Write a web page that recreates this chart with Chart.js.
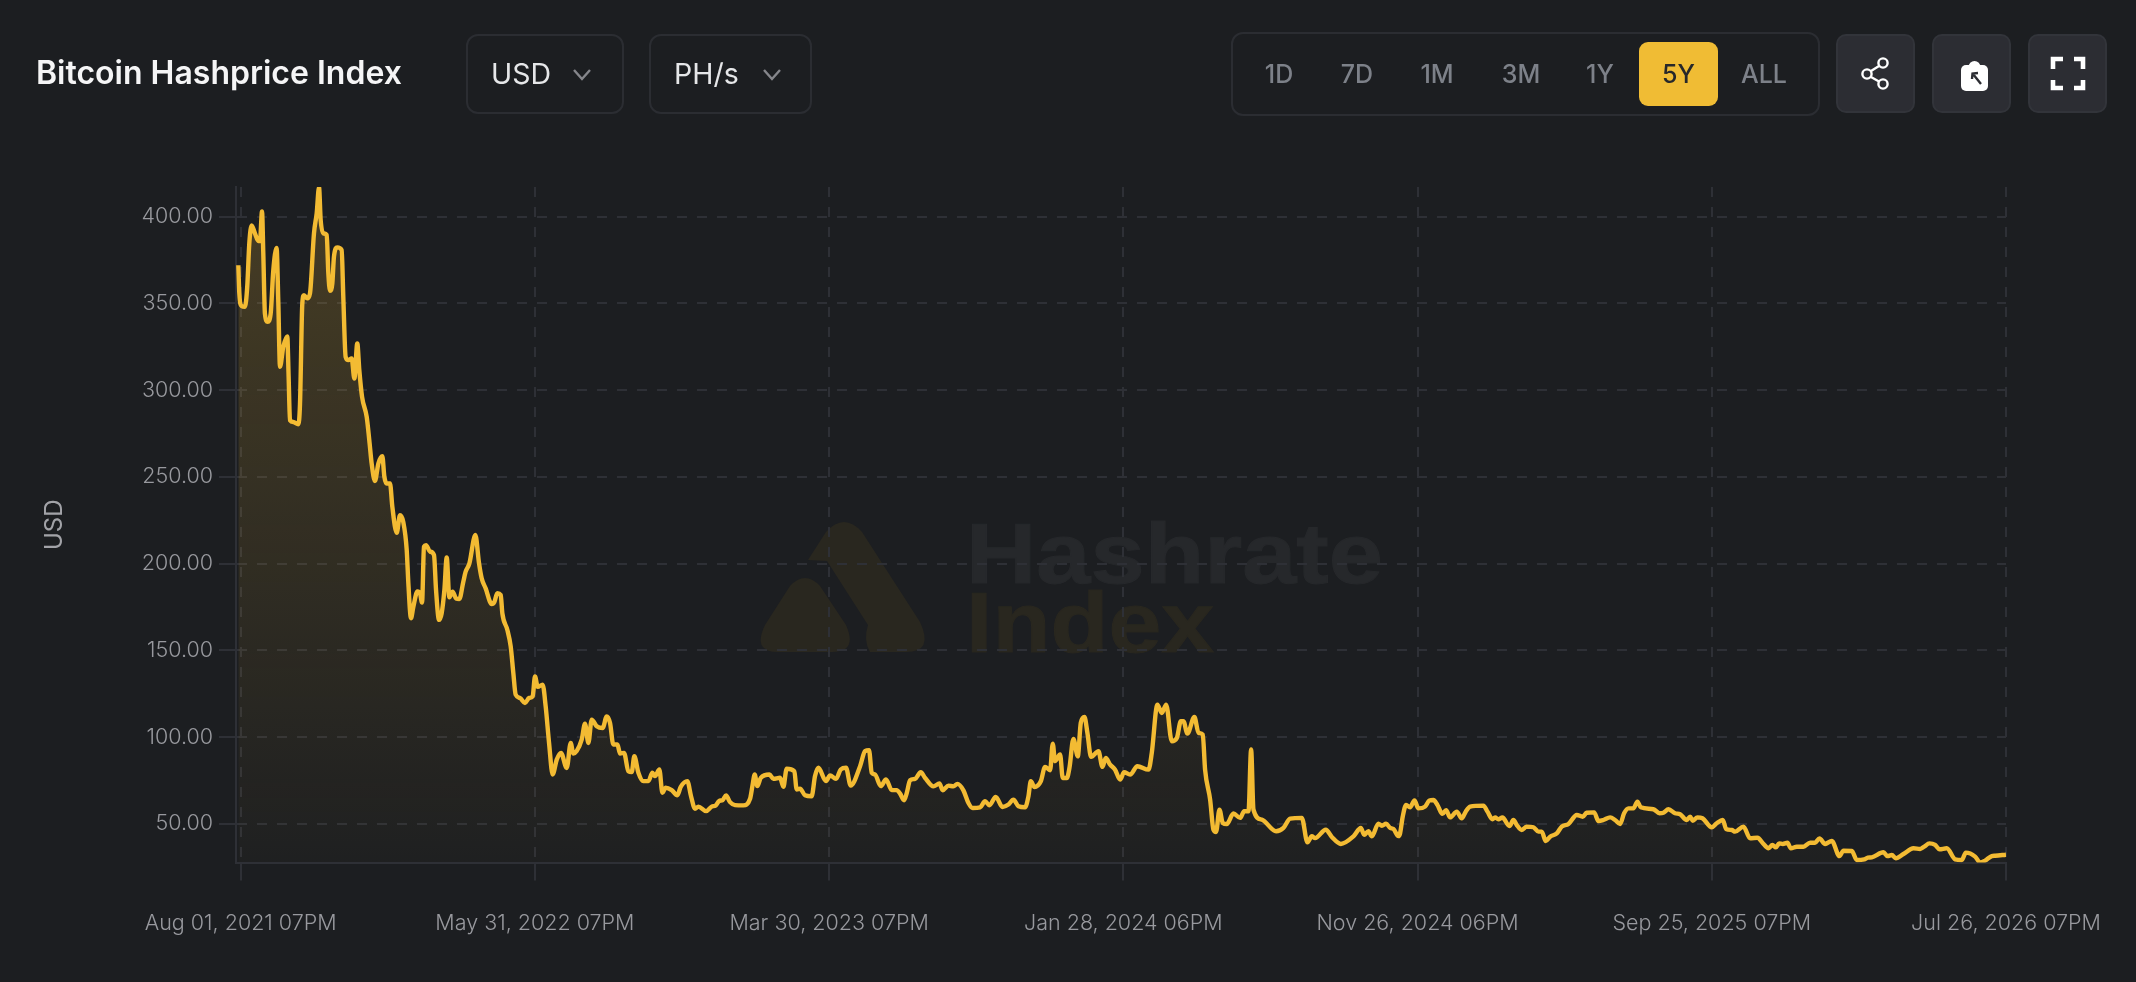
<!DOCTYPE html>
<html>
<head>
<meta charset="utf-8">
<title>Bitcoin Hashprice Index</title>
<script src="https://cdn.jsdelivr.net/npm/chart.js@4/dist/chart.umd.js"></script>
<style>
    html, body { margin: 0; padding: 0; background: #1c1e21; width: 2136px; height: 982px; overflow: hidden; font-family: Inter, sans-serif; }
    .abs { position: absolute; box-sizing: border-box; }
    #watermark { left: 0; top: 0; }
    #chartBox { left: 0; top: 0; width: 2136px; height: 982px; }
    .title { left: 36px; top: 52px; line-height: 42px; font-size: 32px; font-weight: 600; color: #f5f5f6; white-space: nowrap; }
    .select { top: 34px; height: 80px; border: 2px solid #2b2d32; border-radius: 12px; color: #e6e7e9; font-size: 28.5px; line-height: 76px; padding-left: 23px; }
    .select svg { position: absolute; top: 32px; }
    .ranges { left: 1231px; top: 32px; width: 589px; height: 84px; border: 2px solid #2b2d32; border-radius: 12px; }
    .range { top: 42px; height: 64px; width: 80px; line-height: 64px; text-align: center; font-size: 25px; font-weight: 500; color: #7d8189; }
    .range.active { left: 1639px; width: 79px; background: #f0bc34; color: #27282a; border-radius: 9px; }
    .icon { top: 34px; height: 79px; width: 79px; background: #2c2d33; border: 2px solid #32343a; border-radius: 10px; }
    .icon svg { position: absolute; left: 0; top: 0; }
</style>
</head>
<body>

<svg id="watermark" class="abs" width="2136" height="982">
    <g fill="#29271f">
        <path d="M826 532 Q844 512 862 532 L920 622 Q934 652 906 652 L870 652 Q863 640 868 625 L827 561 L808 560 Z"/>
        <path d="M790 586 Q805 570 820 586 L846 625 Q858 652 832 652 L778 652 Q752 652 765 625 Z"/>
    </g>
    <text x="966" y="583" font-family="Liberation Sans" font-weight="700" font-size="86" textLength="417" lengthAdjust="spacingAndGlyphs" fill="#26282b" stroke="#26282b" stroke-width="1">Hashrate</text>
    <text x="966" y="652" font-family="Liberation Sans" font-weight="700" font-size="86" textLength="248" lengthAdjust="spacingAndGlyphs" fill="#29271f" stroke="#29271f" stroke-width="1">Index</text>
</svg>

<div id="chartBox" class="abs"><canvas id="hashChart" width="2136" height="982"></canvas></div>

<div class="abs title">Bitcoin Hashprice Index</div>

<div class="abs select" style="left:466px;width:158px;">USD
    <svg style="left:103px" width="22" height="14"><path d="M3 2 L11 11 L19 2" fill="none" stroke="#85868b" stroke-width="2.4"/></svg>
</div>
<div class="abs select" style="left:649px;width:163px;">PH/s
    <svg style="left:110px" width="22" height="14"><path d="M3 2 L11 11 L19 2" fill="none" stroke="#85868b" stroke-width="2.4"/></svg>
</div>

<div class="abs ranges"></div>
<div class="abs range" style="left:1239px">1D</div>
<div class="abs range" style="left:1317px">7D</div>
<div class="abs range" style="left:1397px">1M</div>
<div class="abs range" style="left:1481px">3M</div>
<div class="abs range" style="left:1560px">1Y</div>
<div class="abs range active">5Y</div>
<div class="abs range" style="left:1724px">ALL</div>

<div class="abs icon" style="left:1836px">
    <svg width="79" height="79" fill="none" stroke="#fff" stroke-width="2.4">
        <circle cx="45" cy="27" r="4.6"/><circle cx="29" cy="38" r="4.6"/><circle cx="45" cy="48" r="4.6"/>
        <path d="M41 30 L33 35 M33 41 L41 45.5"/>
    </svg>
</div>
<div class="abs icon" style="left:1932px">
    <svg width="79" height="79">
        <rect x="27" y="29" width="27" height="26" rx="5" fill="#fff"/>
        <circle cx="40.5" cy="31" r="6" fill="#fff"/>
        <path d="M47 48 L39 38 M38 43 L38.5 37.5 L44 37" fill="none" stroke="#2c2d33" stroke-width="2.4"/>
    </svg>
</div>
<div class="abs icon" style="left:2028px">
    <svg width="79" height="79" fill="none" stroke="#fff" stroke-width="4.6">
        <path d="M23 33 V23 H33 M44 23 H53 V33 M23 44 V52 H33 M44 52 H53 V44"/>
    </svg>
</div>

<script>
// 축 눈금
const tickDays = [0, 303, 606, 909, 1212, 1515, 1818];
const tickLabels = [
    "Aug 01, 2021 07PM", "May 31, 2022 07PM", "Mar 30, 2023 07PM", "Jan 28, 2024 06PM",
    "Nov 26, 2024 06PM", "Sep 25, 2025 07PM", "Jul 26, 2026 07PM"
];
const priceTicks = [50, 100, 150, 200, 250, 300, 350, 400];

// days since Aug 01, 2021
const days = [
    -2.4, -1.4, 1, 4.4, 6.8, 8.9, 11.3, 14.7, 18.2, 19.9, 22, 23.3, 25, 27.8, 30.9, 33.6, 37, 38.8, 40.5, 43.9,
    48, 49.4, 50.8, 54.2, 59.4, 61.1, 63.5, 65.2, 68.6, 71.4, 75.5, 78.3, 80.7, 82.4, 85.1, 88.6, 90.3, 92, 94.4, 96.1,
    99.5, 104, 105.7, 108.1, 110.9, 114.3, 117.1, 120.1, 122.2, 125, 129.8, 132.5, 134.9, 138.3, 141.8, 145.9, 148, 150.4, 153.8, 156.2,
    160.7, 164.1, 167.5, 171, 172.7, 175.4, 177.8, 182, 184.7, 186.8, 188.8, 190.9, 195, 199.1, 201.2, 204.3, 207, 209.8, 212.2, 214.9,
    218.3, 221.8, 225.2, 229.3, 231.7, 235.5, 241.7, 245.5, 248.2, 252.3, 258.5, 261.3, 264.3, 267.8, 269.5, 274.6, 278.1, 280.8, 283.2, 287.7,
    292.8, 297, 300.7, 303.1, 305.9, 311, 314.1, 317.6, 321.3, 325.5, 329.9, 335.8, 339.9, 342.6, 346, 351.2, 354.6, 358.1, 361.5, 366.7,
    372.8, 377, 380.4, 383.8, 388, 390.7, 394.8, 399.3, 402.7, 405.4, 409.6, 414.7, 419.9, 424, 426.7, 431.2, 434.3, 437.7, 443.9, 449.7,
    453.2, 460, 463.8, 467.9, 471.4, 479.3, 485.1, 489.2, 492.6, 496.4, 499.9, 504, 509.1, 517.7, 524.6, 527, 529.4, 532.1, 535.6, 544.5,
    548.6, 555.5, 558.9, 562.3, 570.2, 572.6, 576, 581.2, 588, 591.5, 594.9, 602.8, 607, 613.1, 618, 623.4, 628.2, 637.9, 643, 647.1,
    649.9, 653.3, 659.2, 664.6, 670.5, 675.6, 679.1, 683.2, 686, 689.4, 694.5, 700.4, 704.9, 713.4, 719.6, 723, 728.9, 734, 738.1, 744.3,
    749.5, 753.9, 761.5, 766.6, 771.1, 777.6, 784.5, 790.7, 795.8, 801, 807.8, 811.3, 813.7, 817.5, 824, 828.4, 833.6, 836.3, 838.7, 843.9,
    846.6, 850.8, 853.5, 857.6, 862.1, 865.2, 869, 872, 875.8, 883.4, 887.5, 890.9, 895.4, 900.5, 905.7, 909.8, 916, 923.5, 934.9, 938.3,
    944.1, 948.6, 953.1, 958.9, 964.1, 968.2, 970.9, 975, 982.2, 986.4, 990.8, 993.2, 998.4, 1001.8, 1004.5, 1008, 1011.4, 1015.5, 1022.4, 1029.3,
    1033.4, 1037.9, 1040.6, 1043, 1051.6, 1066.3, 1073.9, 1080.8, 1092.8, 1098.6, 1103.1, 1106.5, 1117.5, 1123.7, 1133, 1146, 1153.6, 1157, 1161.4, 1164.9,
    1171.7, 1175.2, 1179.6, 1183.8, 1187.2, 1192.3, 1194, 1196.7, 1200.2, 1204.3, 1208.8, 1212.9, 1219.7, 1224.2, 1228.3, 1232.4, 1237.6, 1241.4, 1245.5, 1252.4,
    1257.5, 1261.6, 1266.1, 1279.8, 1284, 1289.1, 1291.8, 1295.3, 1299.4, 1306.6, 1310.7, 1314.2, 1319.3, 1324.5, 1331.3, 1336.5, 1339.9, 1344, 1348.5, 1355.4,
    1360.5, 1367.4, 1376, 1382.1, 1386.2, 1393.8, 1398.3, 1403.4, 1410.3, 1415.4, 1420.6, 1424.7, 1429.2, 1434.3, 1438.4, 1441.9, 1454.9, 1461.1, 1465.2, 1470.4,
    1477.2, 1482.4, 1489.2, 1492.7, 1495.4, 1500.2, 1505.4, 1515, 1520.1, 1526.3, 1529.8, 1535.6, 1539, 1547.6, 1554.5, 1562, 1568.2, 1573.4, 1577.5, 1581,
    1584.4, 1588.1, 1592.9, 1596.4, 1602.6, 1609.4, 1616.3, 1621.4, 1625.9, 1631.7, 1638.6, 1646.5, 1650.6, 1659.2, 1664.4, 1671.9, 1675.7, 1679.8, 1691.8, 1695.9,
    1700.4, 1704.5, 1712.4, 1722.7, 1729.6, 1733.7, 1739.2, 1745, 1749.5, 1757, 1765.6, 1772.5, 1776.6, 1786.2, 1791.4, 1796.5, 1803.4, 1806.8, 1818
];

// USD per PH/s per day
const hashprice = [
    372, 356, 348.5, 348, 360, 384.6, 395, 390.4, 386, 386, 403, 379, 344, 339.4, 344, 369, 382, 350, 313.5, 325,
    331, 307.7, 282.7, 281.7, 280.4, 292, 350, 354.8, 352.9, 355.8, 390.4, 402, 417, 398, 390.4, 389.4, 367.3, 357.3, 361.5, 377,
    382.3, 380.8, 353.8, 319.2, 317.3, 318.3, 306.7, 327, 311.5, 296.2, 284.6, 271, 257.7, 247.7, 257.7, 261.9, 250, 246.2, 246.2, 232.8,
    217.8, 228, 224, 208, 188.7, 168.6, 175, 184, 183, 177.6, 209.8, 210.7, 207, 205, 184.9, 167.6, 171.4, 184.9, 203.6, 180.6,
    183.9, 180, 179.7, 189.6, 195.4, 200, 216.5, 200.2, 191.6, 185.8, 176.8, 178, 183, 182, 171.4, 161.9, 152.3, 137, 124.5, 122.6,
    119.7, 122.6, 123.5, 135, 129, 130.3, 117.8, 96.7, 78.5, 87.1, 91, 82.3, 96.7, 90.6, 92, 98.6, 107.8, 96.7, 110.1, 106.3,
    105.3, 112, 108.2, 95.8, 95.8, 90.6, 91, 80.4, 79.9, 89, 79.5, 74.7, 74.7, 79.5, 77.6, 81.4, 68, 70.9, 69.5, 66.6,
    71.4, 74.7, 66, 58.8, 60, 57.4, 60, 60.7, 63.2, 63.8, 66.4, 62.6, 60.9, 60.7, 64.5, 71.8, 78.5, 71.8, 76.6, 78.5,
    76, 76.6, 71.4, 81.8, 80.4, 69.9, 70.3, 66.6, 66, 77.6, 82.4, 74.7, 78, 76, 81.4, 82.4, 72.2, 83.3, 92, 92.5,
    79.5, 78.5, 71.8, 75.6, 69.5, 69.5, 67.5, 63.7, 67.9, 75.2, 76, 79.8, 76.5, 71.7, 73.3, 69.4, 72.1, 71.7, 73.1, 69.4,
    62.1, 59.2, 59.6, 63.1, 60.8, 65.6, 59.8, 61.2, 64, 60.2, 59.6, 66, 74.6, 71.3, 74.6, 82.9, 81, 96.3, 86.2, 90,
    76.5, 76.5, 82.3, 99, 89, 108.3, 111.7, 102.5, 88.7, 91.9, 82.9, 88, 84.2, 81.3, 75.6, 79.8, 78.5, 83.3, 81.3, 91,
    118.8, 114, 118.8, 97.7, 99.6, 109.2, 109.2, 102.1, 111.7, 102.5, 101.5, 81.3, 64, 46.7, 45.4, 58.3, 50.6, 50, 56, 53.5,
    57.3, 57.3, 92.9, 58.3, 52.5, 45.8, 47.7, 53.1, 53.5, 39.4, 42.9, 41.9, 46.7, 42.5, 38.5, 42.9, 47.7, 43.8, 45.8, 42.9,
    50.2, 49, 50.2, 47.7, 47.1, 43, 44.6, 54.2, 61, 59.6, 63.5, 59, 60, 63.5, 63.8, 61, 55.8, 58, 53.8, 57.1,
    53.3, 57.1, 60, 60.6, 57.1, 52.7, 53.8, 52.7, 53.7, 48.8, 52.3, 49.4, 46.5, 48.5, 48.1, 45.6, 45.6, 40.2, 42.7, 44.6,
    48.5, 50, 55.2, 54.2, 56.5, 56.7, 51.7, 52.3, 53.8, 52.3, 50, 56.2, 59, 59, 62.9, 59.6, 58.5, 56.2, 56.5, 58.5,
    56.2, 55.6, 52.3, 54.2, 51.9, 53.8, 53.3, 48.1, 50.4, 52.3, 47.1, 46.5, 45.6, 48.5, 41.7, 42.1, 38.5, 36, 37.9, 36.5,
    38.8, 38.5, 39.2, 36, 36.9, 36.9, 39.2, 39.2, 41.7, 38.5, 40.2, 31.5, 34.6, 34.4, 29.2, 29.6, 30.6, 30.8, 33.7, 31.5,
    32.1, 30.2, 32.7, 36, 35.6, 36.9, 38.8, 37.9, 35.4, 36, 29.6, 29.2, 33.5, 31.2, 27.7, 28.9, 31.5, 31.7, 32.3
];

const gridColor = "#2e3036";
const labelColor = "#98999e";

const ctx = document.getElementById("hashChart").getContext("2d");

new Chart(ctx, {
    type: "line",
    data: {
        datasets: [{
            label: "Hashprice",
            data: days.map((d, i) => ({ x: d, y: hashprice[i] })),
            borderColor: "#f3bb33",
            borderWidth: 4.4,
            pointRadius: 0,
            cubicInterpolationMode: "monotone",
            borderJoinStyle: "round",
            fill: "start",
            // 위에서 아래로 흐려지는 채우기
            backgroundColor: function (context) {
                const area = context.chart.chartArea;
                if (!area) return "transparent";
                const g = context.chart.ctx.createLinearGradient(0, area.top, 0, area.bottom);
                g.addColorStop(0, "rgba(243,187,51,0.2)");
                g.addColorStop(1, "rgba(243,187,51,0.015)");
                return g;
            }
        }]
    },
    options: {
        responsive: false,
        animation: false,
        layout: { padding: { left: 38, top: 187, right: 130, bottom: 0 } },
        plugins: { legend: { display: false }, tooltip: { enabled: false } },
        scales: {
            x: {
                type: "linear",
                min: -4.8,
                max: 1818,
                afterBuildTicks: function (scale) {
                    scale.ticks = tickDays.map(v => ({ value: v }));
                },
                afterFit: function (scale) { scale.height = 982 - 862.5; },
                grid: { color: gridColor, lineWidth: 2, tickColor: gridColor, tickLength: 18, tickBorderDash: [] },
                border: { color: gridColor, width: 2, dash: [10, 10] },
                ticks: {
                    color: labelColor,
                    font: { family: "Inter", size: 21.5, weight: 300 },
                    padding: 30,
                    maxRotation: 0,
                    autoSkip: false,
                    callback: function (value) { return tickLabels[tickDays.indexOf(value)]; }
                }
            },
            y: {
                type: "linear",
                min: 27.8,
                max: 417.1,
                afterBuildTicks: function (scale) {
                    scale.ticks = priceTicks.map(v => ({ value: v }));
                },
                afterFit: function (scale) { scale.width = 198; },
                title: {
                    display: true,
                    text: "USD",
                    color: "#a2a3a8",
                    font: { family: "Inter", size: 24, weight: 400 },
                    padding: { top: 2, bottom: 0 }
                },
                grid: { color: gridColor, lineWidth: 2, tickColor: gridColor, tickLength: 17, tickBorderDash: [] },
                border: { color: gridColor, width: 2, dash: [10, 10] },
                ticks: {
                    color: labelColor,
                    font: { family: "Inter", size: 21.5, weight: 300 },
                    padding: 6,
                    autoSkip: false,
                    callback: function (value) { return value.toFixed(2); }
                }
            }
        }
    }
});
</script>
</body>
</html>
